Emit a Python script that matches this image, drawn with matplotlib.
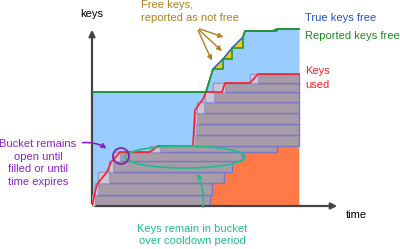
import matplotlib.pyplot as plt
from matplotlib.patches import Ellipse, Circle
import numpy as np

plt.rcParams['font.family'] = ['Liberation Sans', 'DejaVu Sans']

# true free keys (top of blue area)
true_t = [0, 114, 121, 131, 140, 151, 153, 180, 185, 207]
true_k = [114, 114, 137, 147, 158, 169, 175, 175, 177, 177]
# reported free keys (staircase)
rep_t = [0, 114, 121, 131, 131, 140, 140, 151, 151, 153, 180, 185, 185, 207]
rep_k = [114, 114, 137, 137, 147, 147, 158, 158, 169, 175, 175, 175, 177, 177]
# keys used
used_t = [0, 4, 6, 15, 19, 22, 28, 58, 66, 101, 103, 111, 114, 130, 133, 158, 166, 207]
used_k = [0, 18, 23, 34, 44, 47, 54, 54, 60, 60, 96, 107, 114, 114, 123, 123, 132, 132]
# permanently used block
perm_t = [113, 207]
perm_k = 60

# buckets: start, end, bottom, top, end of filling period
b_start = [0, 3, 6, 17, 21, 58, 101, 102, 103, 105, 113, 121, 158]
b_end = [118, 120, 132, 140, 150, 185, 207, 207, 207, 207, 207, 207, 207]
b_bottom = [0, 11, 23, 34, 45, 54, 60, 71, 82, 93, 104, 114, 123]
b_top = [11, 23, 34, 45, 54, 60, 71, 82, 93, 104, 114, 123, 132]
b_fill_end = [3, 6, 17, 21, 28, 68, 103, 104, 105, 112, 122, 133, 166]

fig = plt.figure(figsize=(4, 2.49), dpi=100)
ax = fig.add_axes([92 / 400, 43 / 249, 248 / 400, 179 / 249])
ax.set_xlim(0, 248)
ax.set_ylim(0, 179)
ax.axis('off')

ax.fill_between(true_t, 0, true_k, color='#99ccff', lw=0, zorder=1)
ax.fill_between(perm_t, 0, perm_k, color='#ff7a48', lw=0, zorder=2)
# yellow = between true and reported lines
ax.fill(true_t + rep_t[::-1], true_k + rep_k[::-1], color='#f5c800', lw=0, zorder=2)

widths = np.array(b_end) - np.array(b_start)
heights = np.array(b_top) - np.array(b_bottom)
ax.barh(b_bottom, widths, height=heights, left=b_start, align='edge',
        color='#a99ca9', edgecolor='#7a78c2', lw=1, zorder=3)
ax.barh(b_bottom, np.array(b_fill_end) - np.array(b_start), height=heights, left=b_start,
        align='edge', color='#cdc5d9', edgecolor='#9a98d0', lw=0.8, zorder=3.5)

ax.plot(used_t, used_k, color='#ff2020', lw=1.2, zorder=4)
ax.plot(true_t, true_k, color='#2a62d6', lw=1.2, zorder=4)
ax.plot(rep_t, rep_k, color='#1f9a1f', lw=1.2, zorder=4.5)

ax.add_patch(Ellipse((93, 49), 120, 22, fill=False, ec='#1fbf8a', lw=1.3, zorder=5))
ax.add_patch(Circle((29, 50), 8, fill=False, ec='#7a1fb0', lw=1.2, zorder=5))

# axes arrows
arr = dict(arrowstyle='-|>', color='#444444', lw=1.6, mutation_scale=9)
ax.annotate('', xy=(0, 179), xytext=(0, 0), arrowprops=arr, annotation_clip=False)
ax.annotate('', xy=(248, 0), xytext=(0, 0), arrowprops=arr, annotation_clip=False)
ax.text(0, 192, 'keys', ha='center', va='center', fontsize=8, color='black')
ax.text(254, -9, 'time', ha='left', va='center', fontsize=8, color='black')

# labels
ax.text(213, 188, 'True keys free', ha='left', va='center', fontsize=8, color='#2255bb')
ax.text(213, 170, 'Reported keys free', ha='left', va='center', fontsize=8, color='#1a8a1a')
ax.text(213, 128, 'Keys\nused', ha='left', va='center', fontsize=8, color='#ff2020',
        linespacing=1.45)

brown = '#b07f1f'
ax.text(49, 194.5, 'Free keys,\nreported as not free', ha='left', va='center', fontsize=8,
        color=brown, linespacing=1.3)
for tx, ty in [(134, 168), (132, 153), (121, 143)]:
    ax.annotate('', xy=(tx, ty), xytext=(105, 178),
                arrowprops=dict(arrowstyle='-|>', color=brown, lw=1, mutation_scale=7),
                annotation_clip=False)

purple = '#8a22c8'
ax.text(-54, 43, 'Bucket remains\nopen until\nfilled or until\ntime expires', ha='center',
        va='center', fontsize=8, color=purple, linespacing=1.35)
ax.annotate('', xy=(17, 56), xytext=(-12, 63),
            arrowprops=dict(arrowstyle='-|>', color=purple, lw=1.2, mutation_scale=7,
                            connectionstyle='arc3,rad=-0.2'), annotation_clip=False)

teal = '#1fbf8a'
ax.text(100, -29, 'Keys remain in bucket\nover cooldown period', ha='center', va='center',
        fontsize=8, color=teal, linespacing=1.35)
ax.annotate('', xy=(104, 35), xytext=(111, -4),
            arrowprops=dict(arrowstyle='-|>', color=teal, lw=1.2, mutation_scale=7,
                            connectionstyle='arc3,rad=0.15'), annotation_clip=False)

fig.savefig('out.png', dpi=100)
